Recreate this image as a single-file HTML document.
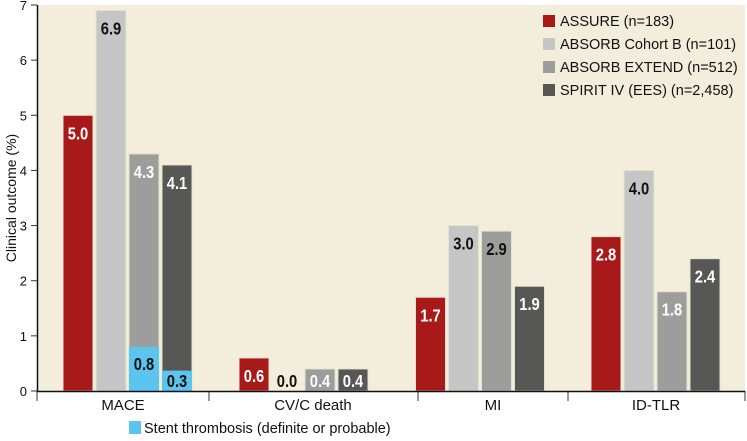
<!DOCTYPE html>
<html><head><meta charset="utf-8"><style>
body{margin:0;background:#fff;}
svg text{font-family:"Liberation Sans Narrow","Liberation Sans",sans-serif;}
</style></head><body>
<svg id="c" width="747" height="436" xmlns="http://www.w3.org/2000/svg">
<rect x="38" y="5" width="707" height="386" fill="#f2eedb"/>
<g id="bars"></g>
<g id="axes"></g>
<g>
<rect x="543" y="15" width="12" height="12" fill="#a81a1a"/>
<text x="560" y="26" font-size="14.5" fill="#111">ASSURE (n=183)</text>
<rect x="543" y="38" width="12" height="12" fill="#c6c6c6"/>
<text x="560" y="49" font-size="14.5" fill="#111">ABSORB  Cohort B (n=101)</text>
<rect x="543" y="61" width="12" height="12" fill="#9d9d9b"/>
<text x="560" y="72" font-size="14.5" fill="#111">ABSORB EXTEND (n=512)</text>
<rect x="543" y="84" width="12" height="12" fill="#575755"/>
<text x="560" y="95" font-size="14.5" fill="#111">SPIRIT IV (EES) (n=2,458)</text>
<rect x="129" y="421" width="12" height="13" fill="#5bc4ef"/>
<text x="144" y="433" font-size="14.5" fill="#111">Stent thrombosis (definite or probable)</text>
</g>
<text transform="translate(16,198) rotate(-90)" text-anchor="middle" font-size="14" fill="#111">Clinical outcome (%)</text>
</svg>
<script>
const categories=["MACE","CV/C death","MI","ID-TLR"];
const assure=[5.0,0.6,1.7,2.8];
const absorbB=[6.9,0.0,3.0,4.0];
const absorbExt=[4.3,0.4,2.9,1.8];
const spirit=[4.1,0.4,1.9,2.4];
const stentMace=[0,0,0.8,0.37];
const stentLabels=["","","0.8","0.3"];
const yTicks=[0,1,2,3,4,5,6,7];
const NS="http://www.w3.org/2000/svg";
const y0=391,unit=55.14;
const y=v=>y0-v*unit;
const groupCenter=[127.5,303.5,480,655.5];
const catTicks=[37,209,418,568,745];
const labelCenter=[123,313,493,656];
const bw=30,step=33;
const series=[assure,absorbB,absorbExt,spirit];
const colors=["#a81a1a","#c6c6c6","#9d9d9b","#575755"];
const txtCol=[["#fff","#fff","#fff","#fff"],["#111","#111","#111","#111"],["#fff","#fff","#111","#fff"],["#fff","#fff","#fff","#fff"]];
const bars=document.getElementById('bars'),axes=document.getElementById('axes');
function mk(t,a,p){const e=document.createElementNS(NS,t);for(const k in a)e.setAttribute(k,a[k]);p.appendChild(e);return e;}
function label(cx,by,txt,col){
 const t=mk('text',{x:0,y:0,'text-anchor':'middle','font-size':18,'font-weight':'bold',fill:col,transform:`translate(${cx},${by}) scale(0.82,1)`},bars);
 t.textContent=txt;
 
 
}
categories.forEach((c,i)=>{
 series.forEach((s,j)=>{
  const x=groupCenter[i]-2*step+j*step+1.5;
  const v=s[i];
  if(v>0){const r=mk('rect',{x:x,y:y(v),width:bw,height:v*unit,fill:colors[j],stroke:'#e6e2cf','stroke-width':1},bars);
  
  }
  if(j>=2&&i===0){const sv=stentMace[j];
   const r2=mk('rect',{x:x,y:y(sv),width:bw,height:sv*unit,fill:"#5bc4ef"},bars);
   
   
   label(x+bw/2,Math.min(y(sv)+23,y0-4),stentLabels[j],'#111');}
  const by=v>0?Math.min(y(v)+24,y0-4):y0-4;
  label(x+bw/2,by,v.toFixed(1),v>0?txtCol[j][i]:'#111');
 });
 const l=mk('text',{x:labelCenter[i],y:410,'text-anchor':'middle','font-size':15,fill:'#111'},axes);
 l.textContent=c;
 
 
});
catTicks.forEach(x=>{const t=mk('line',{x1:x,x2:x,y1:391,y2:401,stroke:'#333','stroke-width':1},axes);
 });
const xa=mk('line',{x1:37,x2:745,y1:391.5,y2:391.5,stroke:'#111','stroke-width':1.5},axes);

const ya=mk('line',{x1:37.5,x2:37.5,y1:5,y2:392,stroke:'#111','stroke-width':1.5},axes);

yTicks.forEach(v=>{const t=mk('line',{x1:31,x2:37,y1:y(v),y2:y(v),stroke:'#333'},axes);
 
 const l=mk('text',{x:27,y:y(v)+5,'text-anchor':'end','font-size':13,fill:'#111'},axes);
 l.textContent=v;});
</script>
</body></html>
